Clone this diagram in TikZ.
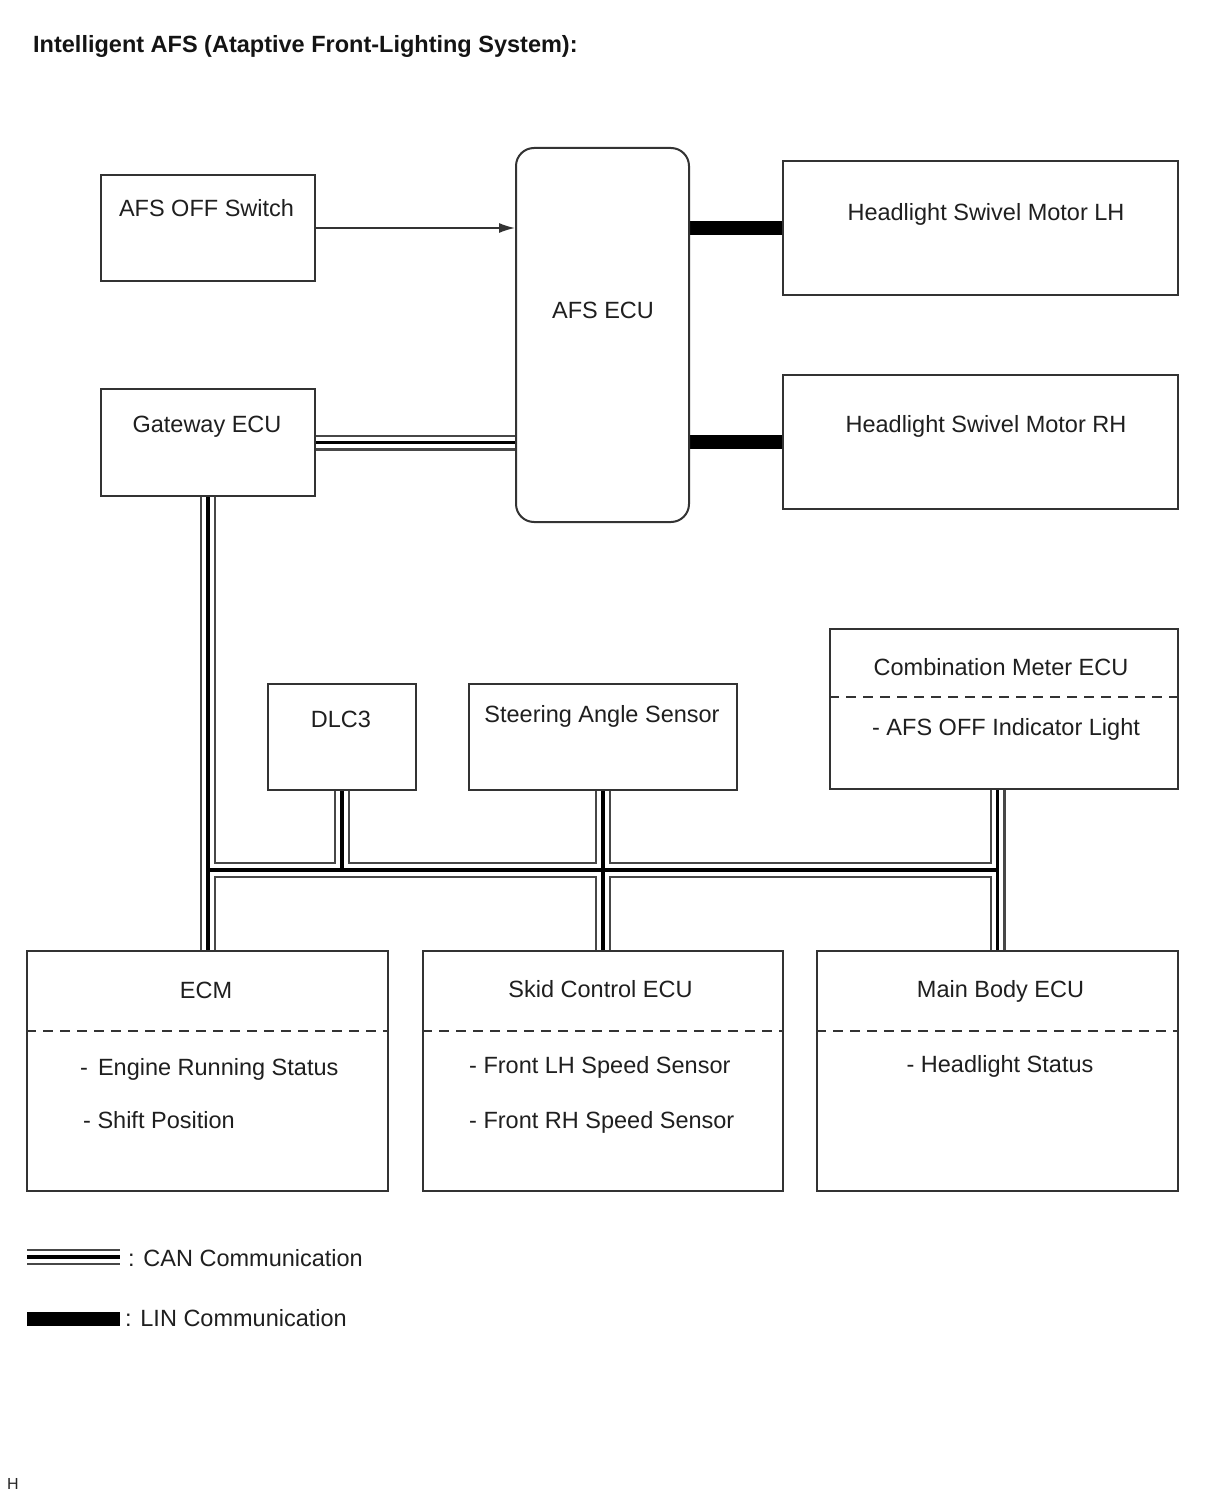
\documentclass[tikz,border=0pt]{standalone}
\usepackage{fontspec}
\setmainfont{Liberation Sans}
\usetikzlibrary{arrows.meta,backgrounds}
\newcommand\canpath{(gw.east) -- (afs.west |- gw.east)
 (gw.south) -- (gw.south |- ecm.north)
 (gw.south |- bus) -- (mb.north |- bus)
 (dlc.south) -- (dlc.south |- bus)
 (sas.south) -- (skid.north)
 (mb.north |- cm.south) -- (mb.north)
 (cl1) -- (cl2)}
\begin{document}
\begin{tikzpicture}[x=1pt,y=-1pt,
  box/.style={draw=black!80, line width=2pt, inner sep=0pt},
  txt/.style={text=black!88, font=\fontsize{23.5}{28}\selectfont, inner sep=0pt, anchor=base},
  ltxt/.style={txt, anchor=base west},
  divline/.style={draw=black!80, line width=2pt, dash pattern=on 10pt off 7pt},
  canA/.style={line width=16pt, draw=black!72},
  canB/.style={line width=11.5pt, draw=white},
  canC/.style={line width=3.5pt, draw=black},
  lin/.style={line width=14pt, draw=black},
  sig/.style={draw=black!80, line width=1.5pt, -{Latex[length=16pt,width=10pt]}}]
\useasboundingbox (0,0) rectangle (1210,1498);

\node[anchor=base west, inner sep=0pt, text=black!92, font=\bfseries\fontsize{23.5}{28}\selectfont] (title) at (33,53) {Intelligent AFS (Ataptive Front-Lighting System):};

% boxes
\node[box, minimum width=214pt, minimum height=106pt] (sw) at (208,228) {};
\node[box, rounded corners=18pt, minimum width=173pt, minimum height=374pt] (afs) at (602.5,335) {};
\node[box, minimum width=395pt, minimum height=134pt] (lh) at (980.5,228) {};
\node[box, minimum width=395pt, minimum height=134pt] (rh) at (980.5,442) {};
\node[box, minimum width=214pt, minimum height=107pt] (gw) at (208,442.5) {};
\node[box, minimum width=148pt, minimum height=106pt] (dlc) at (342,737) {};
\node[box, minimum width=268pt, minimum height=106pt] (sas) at (603,737) {};
\node[box, minimum width=348pt, minimum height=160pt] (cm) at (1004,709) {};
\node[box, minimum width=361pt, minimum height=240pt] (ecm) at (207.5,1071) {};
\node[box, minimum width=360pt, minimum height=240pt] (skid) at (603,1071) {};
\node[box, minimum width=361pt, minimum height=240pt] (mb) at (997.5,1071) {};

% dividers
\draw[divline] (cm.west |- 0,697) -- (cm.east |- 0,697);
\draw[divline] (ecm.west |- 0,1031) -- (ecm.east |- 0,1031);
\draw[divline] (skid.west |- 0,1031) -- (skid.east |- 0,1031);
\draw[divline] (mb.west |- 0,1031) -- (mb.east |- 0,1031);

% texts
\node[txt] (tsw) at (206.5,216) {AFS OFF Switch};
\node[txt] (tafs) at (603,318) {AFS ECU};
\node[txt] (tlh) at (986,220) {Headlight Swivel Motor LH};
\node[txt] (trh) at (986,432) {Headlight Swivel Motor RH};
\node[txt] (tgw) at (207,432) {Gateway ECU};
\node[txt] (tdlc) at (341,727) {DLC3};
\node[txt] (tsas) at (602,722) {Steering Angle Sensor};
\node[txt] (tcm) at (1001,675) {Combination Meter ECU};
\node[txt] (tcm2) at (1006,735) {- AFS OFF Indicator Light};
\node[txt] (tecm) at (206,998) {ECM};
\node[ltxt] (tecm1) at (80,1075) {-\hspace{10pt}Engine Running Status};
\node[ltxt] (tecm2) at (83,1128) {- Shift Position};
\node[txt] (tskid) at (600.5,997) {Skid Control ECU};
\node[ltxt] (tskid1) at (469,1073) {- Front LH Speed Sensor};
\node[ltxt] (tskid2) at (469,1128) {- Front RH Speed Sensor};
\node[txt] (tmb) at (1000.5,997) {Main Body ECU};
\node[txt] (tmb1) at (1000,1072) {- Headlight Status};

% legend
\coordinate (cl1) at (27,1257);
\coordinate (cl2) at (120,1257);
\coordinate (ll1) at (27,1319);
\coordinate (ll2) at (120,1319);
\node[ltxt] (tcan) at (128,1266.5) {: CAN Communication};
\node[ltxt] (tlin) at (125,1326) {: LIN Communication};
\node[anchor=base west, inner sep=0pt, text=black!85, font=\fontsize{16}{18}\selectfont] (hmark) at (7,1489) {H};

\coordinate (bus) at (0,870);

% signal arrow
\draw[sig] (sw.east) -- (afs.west |- sw.east);

\begin{pgfonlayer}{background}
\fill[white] (0,0) rectangle (1210,1498);
\draw[canA] \canpath;
\draw[canB] \canpath;
\draw[canC] \canpath;
\draw[lin] (afs.east |- lh.west) -- (lh.west);
\draw[lin] (afs.east |- rh.west) -- (rh.west);
\draw[lin] (ll1) -- (ll2);
\end{pgfonlayer}
\end{tikzpicture}
\end{document}
